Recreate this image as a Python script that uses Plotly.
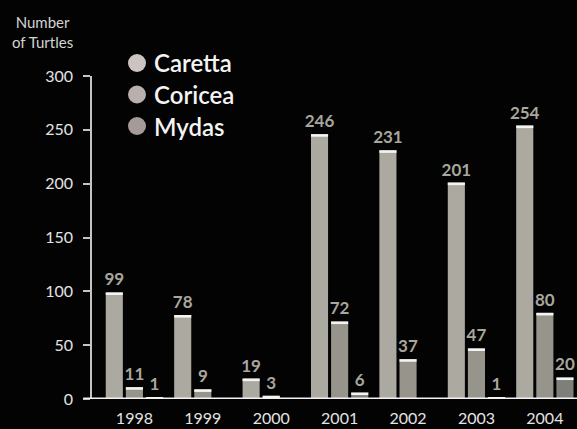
import plotly.graph_objects as go

# Nesting turtles counted per year, by species
years = ["1998", "1999", "2000", "2001", "2002", "2003", "2004"]
caretta = [99, 78, 19, 246, 231, 201, 254]
coricea = [11, 9, 3, 72, 37, 47, 80]
mydas = [1, None, None, 6, None, 1, 20]

species = ["Caretta", "Coricea", "Mydas"]
series = [caretta, coricea, mydas]
bar_colors = ["#aca9a1", "#97958b", "#7e7f78"]
dot_colors = ["#cbc4c1", "#b9afac", "#a59a97"]

y_ticks = [0, 50, 100, 150, 200, 250, 300]

CAP = 2.4  # height of the white cap on top of each bar, in data units
LABEL_FONT = "Lato, 'Open Sans', sans-serif"

fig = go.Figure()

for name, vals, col in zip(species, series, bar_colors):
    fig.add_trace(go.Bar(
        x=years, y=vals, name=name, offsetgroup=name,
        marker=dict(color=col, line=dict(width=0)),
        text=[("" if v is None else str(v)) for v in vals],
        textposition="outside", cliponaxis=False, constraintext="none",
        textfont=dict(family=LABEL_FONT, size=17, color="#a9a69e", weight="bold"),
        showlegend=False,
    ))
    # white cap drawn over the top of every bar
    caps = [None if v is None else min(CAP, v) for v in vals]
    bases = [None if v is None else v - c for v, c in zip(vals, caps)]
    fig.add_trace(go.Bar(
        x=years, y=caps, base=bases, offsetgroup=name,
        marker=dict(color="#f4f4f2", line=dict(width=0)),
        hoverinfo="skip", showlegend=False,
    ))

# baseline running slightly left of the value axis
fig.add_shape(type="line", xref="paper", yref="y", x0=-0.018, x1=1, y0=0, y1=0,
              line=dict(color="#f2f2f2", width=3))

# legend: dots and species names
for i, (name, col) in enumerate(zip(species, dot_colors)):
    yc = 63 + i * 31.5
    fig.add_shape(type="circle", xref="paper", yref="paper",
                  x0=(128 - 92) / 485, x1=(146 - 92) / 485,
                  y0=(429 - 30 - yc - 9) / 323, y1=(429 - 30 - yc + 9) / 323,
                  fillcolor=col, line=dict(width=0))
    fig.add_annotation(text=name, xref="paper", yref="paper",
                       x=(152 - 92) / 485, y=(429 - 30 - yc) / 323,
                       xanchor="left", yanchor="middle", showarrow=False,
                       font=dict(family=LABEL_FONT, size=24, color="#f4f4f4",
                                 weight=600))

# value-axis title
fig.add_annotation(text="Number<br>of Turtles", xref="paper", yref="paper",
                   x=(42 - 92) / 485, y=(429 - 30 - 32) / 323,
                   xanchor="center", yanchor="middle", showarrow=False, align="center",
                   font=dict(family=LABEL_FONT, size=15, color="#d4d4d4"))

fig.update_layout(
    width=577, height=429,
    margin=dict(l=92, r=0, t=76, b=30),
    paper_bgcolor="#030303", plot_bgcolor="#030303",
    barmode="group", bargap=0.118, bargroupgap=0.15,
    xaxis=dict(
        type="category", range=[-0.62, 6.47],
        showline=False, showgrid=False, zeroline=False, ticks="",
        tickfont=dict(family=LABEL_FONT, size=16, color="#e4e4e4"),
        ticklabelstandoff=8,
    ),
    yaxis=dict(
        range=[0, 300], tickvals=y_ticks, ticktext=[str(t) for t in y_ticks],
        showline=True, linecolor="#c4c4c4", linewidth=1.5,
        ticks="outside", ticklen=7, tickcolor="#c4c4c4", tickwidth=1.5,
        showgrid=False, zeroline=False,
        tickfont=dict(family=LABEL_FONT, size=16, color="#e4e4e4"),
        ticklabelstandoff=7,
    ),
    font=dict(family=LABEL_FONT),
)

fig.write_html("out.html")
